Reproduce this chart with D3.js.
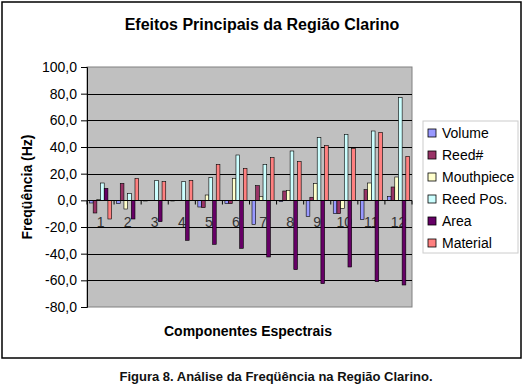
<!DOCTYPE html>
<html>
<head>
<meta charset="utf-8">
<script src="https://cdn.jsdelivr.net/npm/d3@7"></script>
<style>
  body { margin: 0; background: #fff; }
  svg { display: block; font-family: Arial, 'Liberation Sans', sans-serif; }
</style>
</head>
<body>
<svg id="chart" width="525" height="386"></svg>
<script>
// categories and series
const categories = ['1', '2', '3', '4', '5', '6', '7', '8', '9', '10', '11', '12']
const seriesNames = ['Volume', 'Reed#', 'Mouthpiece', 'Reed Pos.', 'Area', 'Material']
const seriesColors = ['#9999ff', '#993366', '#ffffcc', '#ccffff', '#660066', '#ff8080']

const volume = [-2, -2.5, -0.5, -0.5, -5, -2.5, -18, -1, -12, -10, -14.5, 3]
const reedNum = [-9.5, 12.7, 0, 0, -5.5, -2.5, 11, 7, 2.3, -10, 8, 10]
const mouthpiece = [0.5, -6.5, 0, 0, 4, 16.5, 2.7, 7.5, 12.5, -6, 13, 17.5]
const reedPos = [13, 5, 15, 14, 17, 34, 27, 37, 47, 49.5, 52, 77]
const area = [9, -14, -16, -30, -33, -36, -42.5, -52, -62.5, -50, -61, -63.5]
const material = [-14, 16.5, 14, 15, 27, 24, 32, 29, 41, 39, 51, 33]

const yTicks = [-80, -60, -40, -20, 0, 20, 40, 60, 80, 100]

const seriesValues = [volume, reedNum, mouthpiece, reedPos, area, material]

const svg = d3.select('#chart')

// outer frame
svg.append('rect')
  .attr('x', 2).attr('y', 2).attr('width', 519).attr('height', 356)
  .attr('fill', '#fff').attr('stroke', '#000').attr('stroke-width', 1.5)

svg.append('text')
  .attr('x', 262).attr('y', 30)
  .attr('text-anchor', 'middle')
  .attr('font-weight', 'bold').attr('font-size', 16)
  .text('Efeitos Principais da Região Clarino')

const plot = { left: 87, right: 412, top: 67, bottom: 307 }

const x0 = d3.scaleBand().domain(categories).range([plot.left, plot.right])
const x1 = d3.scaleBand().domain(seriesNames).range([2.5, x0.bandwidth() - 2.5])
const y = d3.scaleLinear().domain([-80, 100]).range([plot.bottom, plot.top])
const color = d3.scaleOrdinal().domain(seriesNames).range(seriesColors)

// plot background
svg.append('rect')
  .attr('x', plot.left).attr('y', plot.top)
  .attr('width', plot.right - plot.left).attr('height', plot.bottom - plot.top)
  .attr('fill', '#c0c0c0').attr('stroke', '#808080')

// grid
svg.append('g')
  .selectAll('line')
  .data(yTicks.filter(t => t !== -80 && t !== 100))
  .join('line')
  .attr('x1', plot.left).attr('x2', plot.right)
  .attr('y1', d => Math.round(y(d)) + 0.5).attr('y2', d => Math.round(y(d)) + 0.5)
  .attr('stroke', '#000')

// y axis
const yAxis = svg.append('g')
  .attr('transform', `translate(${plot.left},0)`)
  .call(d3.axisLeft(y).tickValues(yTicks).tickSize(6).tickPadding(4)
    .tickFormat(d => d3.format('.1f')(d).replace('.', ',').replace('−', '-')))
yAxis.select('.domain').attr('stroke', '#000')
yAxis.selectAll('text').attr('font-size', 14).attr('fill', '#000').attr('font-family', 'Arial, Liberation Sans, sans-serif')

svg.append('text')
  .attr('transform', `translate(32,187) rotate(-90)`)
  .attr('text-anchor', 'middle')
  .attr('font-weight', 'bold').attr('font-size', 14)
  .text('Freqüência (Hz)')

// category labels sit under the bars
const zeroY = Math.round(y(0)) + 0.5
svg.append('g')
  .selectAll('text')
  .data(categories)
  .join('text')
  .attr('x', d => x0(d) + x0.bandwidth() / 2)
  .attr('y', zeroY + 26)
  .attr('text-anchor', 'middle')
  .attr('font-size', 14).attr('fill', '#333')
  .text(d => d)

// bars
const bars = svg.append('g')
seriesNames.forEach((name, si) => {
  bars.append('g')
    .selectAll('rect')
    .data(seriesValues[si].map((v, i) => ({ cat: categories[i], v })))
    .join('rect')
    .attr('x', d => x0(d.cat) + x1(name))
    .attr('y', d => y(Math.max(0, d.v)))
    .attr('width', x1.bandwidth())
    .attr('height', d => Math.abs(y(d.v) - y(0)))
    .attr('fill', color(name))
    .attr('stroke', '#000').attr('stroke-width', 0.6)
})

// category axis along zero line
const xAxis = svg.append('g')
  .attr('transform', `translate(0,${zeroY})`)
xAxis.append('line')
  .attr('x1', plot.left).attr('x2', plot.right)
  .attr('stroke', '#000')
xAxis.selectAll('line.tick')
  .data(d3.range(categories.length + 1))
  .join('line')
  .attr('class', 'tick')
  .attr('x1', i => plot.left + i * x0.step()).attr('x2', i => plot.left + i * x0.step())
  .attr('y1', 0).attr('y2', 4)
  .attr('stroke', '#000')

svg.append('text')
  .attr('x', 248).attr('y', 336)
  .attr('text-anchor', 'middle')
  .attr('font-weight', 'bold').attr('font-size', 14)
  .text('Componentes Espectrais')

// legend
const legend = svg.append('g')
legend.append('rect')
  .attr('x', 423).attr('y', 121).attr('width', 95).attr('height', 132)
  .attr('fill', '#fff').attr('stroke', '#ccc')
const items = legend.selectAll('g.item')
  .data(seriesNames)
  .join('g')
  .attr('class', 'item')
  .attr('transform', (d, i) => `translate(428,${133 + i * 22})`)
items.append('rect')
  .attr('x', 0).attr('y', -4).attr('width', 8).attr('height', 8)
  .attr('fill', d => color(d)).attr('stroke', '#000').attr('stroke-width', 0.8)
items.append('text')
  .attr('x', 14).attr('y', 5)
  .attr('font-size', 14)
  .text(d => d)

// caption
svg.append('text')
  .attr('x', 276).attr('y', 381)
  .attr('text-anchor', 'middle')
  .attr('font-weight', 'bold').attr('font-size', 13)
  .attr('fill', '#111')
  .text('Figura 8. Análise da Freqüência na Região Clarino.')
</script>
</body>
</html>
